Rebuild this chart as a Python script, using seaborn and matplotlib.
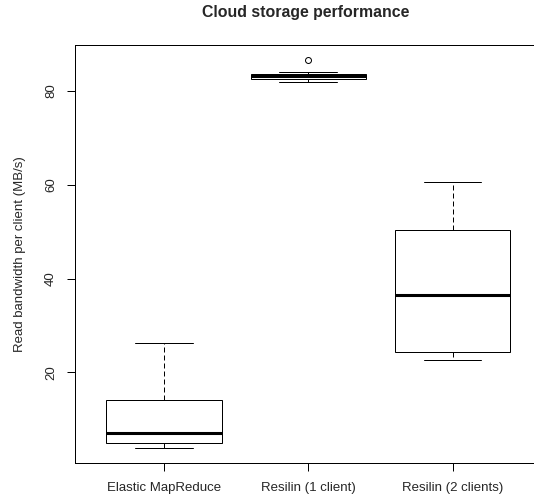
import pandas as pd
import numpy as np
import matplotlib
matplotlib.use('Agg')
import matplotlib.pyplot as plt
import seaborn as sns

# Dados (cinco numeros de cada caixa)
categorias = ["Elastic MapReduce", "Resilin (1 client)", "Resilin (2 clients)"]
emr = [4.0, 5.0, 7.1, 14.1, 26.2]
resilin_1 = [81.9, 82.3, 82.6, 82.9, 83.1, 83.3, 83.6, 84.1, 86.5]
resilin_2 = [22.7, 24.3, 36.6, 50.4, 60.6]
y_ticks = [20, 40, 60, 80]

df = pd.DataFrame({
    "grupo": [categorias[0]] * len(emr) + [categorias[1]] * len(resilin_1) + [categorias[2]] * len(resilin_2),
    "valor": emr + resilin_1 + resilin_2,
})

sns.set_style("white")
plt.rcParams['font.family'] = ['Liberation Sans', 'DejaVu Sans']

W, H = 534, 499
fig = plt.figure(figsize=(W / 100, H / 100), dpi=100)
# eixo passa da borda direita (imagem original estava cortada)
ax = fig.add_axes([74.5 / W, (H - 463) / H, (542 - 74.5) / W, (463 - 45) / H])

lw = 0.72
sns.boxplot(data=df, x="grupo", y="valor", order=categorias, ax=ax,
            width=0.8, whis=1.5, color="white", linecolor="black", linewidth=lw,
            medianprops=dict(linewidth=2.2, color="black"),
            whiskerprops=dict(linestyle=(0, (5, 3)), linewidth=lw, color="black"),
            capprops=dict(linewidth=lw, color="black"),
            flierprops=dict(marker="o", markersize=4.3, markerfacecolor="none",
                            markeredgecolor="black", markeredgewidth=lw))

ax.set_xlim(0.38 - 1, 3.62 - 1)
ax.set_ylim(0.7, 89.8)
ax.set_yticks(y_ticks)
ax.set_xlabel("")
ax.set_ylabel("Read bandwidth per client (MB/s)", fontsize=9.5, labelpad=14)

for s in ax.spines.values():
    s.set_color("black")
    s.set_linewidth(lw)
ax.spines["right"].set_visible(False)

ax.tick_params(axis="both", direction="out", length=5.5, width=lw, color="black",
               labelsize=9.5, pad=7, left=True, bottom=True)
ax.tick_params(axis="x", pad=8.5)
for lab in ax.get_yticklabels():
    lab.set_rotation(90)
    lab.set_va("center")

fig.text(306 / W, 1 - 13 / H, "Cloud storage performance", ha="center", va="center",
         fontsize=11.4, fontweight="bold")

plt.savefig("out.png", dpi=100)
plt.close()
